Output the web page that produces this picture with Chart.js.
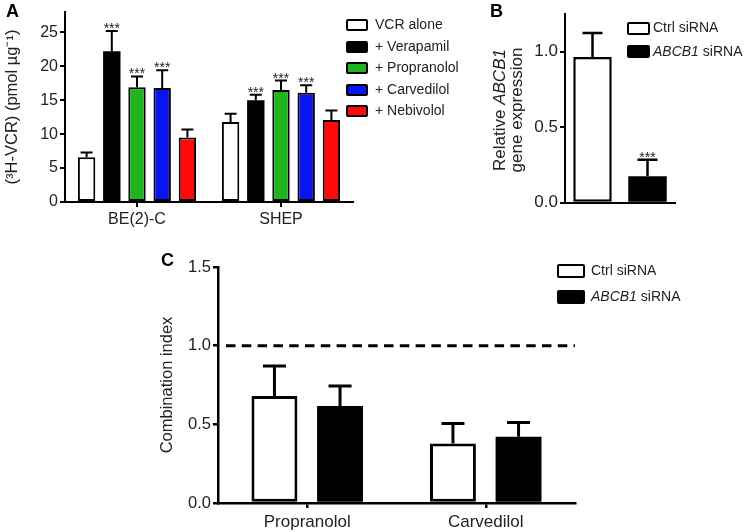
<!DOCTYPE html>
<html>
<head>
<meta charset="utf-8">
<script src="https://cdn.jsdelivr.net/npm/chart.js@4.4.1/dist/chart.umd.min.js"></script>
<style>
  html, body { margin: 0; padding: 0; background: #fff; }
  body { width: 746px; height: 532px; position: relative; overflow: hidden;
         font-family: "Liberation Sans", Arial, Helvetica, sans-serif; color: #111; }
  canvas { position: absolute; }
  .panel { position: absolute; font-weight: bold; font-size: 18px; line-height: 1; color: #000; }
  .leg { position: absolute; font-size: 14px; line-height: 1; white-space: nowrap; color: #222; }
  .leg .box { position: absolute; left: 0; box-sizing: border-box; border: 2px solid #000; border-radius: 2px; }
  .leg span.t { position: absolute; white-space: nowrap; }
  .ytitle { position: absolute; transform: rotate(-90deg); transform-origin: center center;
            text-align: center; font-size: 17px; color: #222; white-space: nowrap; }
</style>
</head>
<body>
<canvas id="chartA" width="360" height="232" style="left:0;top:0"></canvas>
<canvas id="chartB" width="200" height="215" style="left:480px;top:0"></canvas>
<canvas id="chartC" width="440" height="292" style="left:150px;top:240px"></canvas>

<div class="panel" style="left:6px;top:2px">A</div>
<div class="panel" style="left:490px;top:2px">B</div>
<div class="panel" style="left:161px;top:251px">C</div>

<div id="legA"></div>
<div id="legB"></div>
<div id="legC"></div>
<div class="ytitle" style="left:408px;top:93px;width:200px;line-height:17px">Relative <i>ABCB1</i><br>gene expression</div>

<script>
// ---------- Panel A data ----------
const groupsA = ['BE(2)-C', 'SHEP'];
const treatmentsA = ['VCR alone', '+ Verapamil', '+ Propranolol', '+ Carvedilol', '+ Nebivolol'];
const vcrAlone = [6.6, 11.8];
const vcrAloneErr = [0.7, 1.2];
const verapamil = [22.2, 15.0];
const verapamilErr = [3.0, 0.8];
const propranolol = [16.9, 16.5];
const propranololErr = [1.6, 1.4];
const carvedilol = [16.8, 16.1];
const carvedilolErr = [2.6, 1.1];
const nebivolol = [9.5, 12.1];
const nebivololErr = [1.2, 1.4];
const sigA = [['', ''], ['***', '***'], ['***', '***'], ['***', '***'], ['', '']];
const ticksA = [0, 5, 10, 15, 20, 25];
const colorsA = ['#ffffff', '#000000', '#20b420', '#0a14f0', '#ff0a0a'];

// ---------- Panel B data ----------
const seriesB = ['Ctrl siRNA', 'ABCB1 siRNA'];
const valuesB = [0.965, 0.175];
const errorsB = [0.16, 0.11];
const sigB = ['', '***'];
const ticksB = [0, 0.5, 1.0];

// ---------- Panel C data ----------
const categoriesC = ['Propranolol', 'Carvedilol'];
const ctrlC = [0.68, 0.378];
const ctrlErrC = [0.19, 0.128];
const abcbC = [0.617, 0.421];
const abcbErrC = [0.127, 0.09];
const ticksC = [0, 0.5, 1.0, 1.5];
const refLineC = 1.0;
const seriesC = ['Ctrl siRNA', 'ABCB1 siRNA'];

const FONT = '"Liberation Sans", Arial, Helvetica, sans-serif';

// error bars + significance stars
const errorBars = {
  id: 'errorBars',
  afterDatasetsDraw(chart, args, opts) {
    const ctx = chart.ctx, ys = chart.scales.y;
    chart.data.datasets.forEach((ds, i) => {
      const meta = chart.getDatasetMeta(i);
      meta.data.forEach((bar, j) => {
        const v = ds.data[j], e = (ds.errors || [])[j] || 0;
        const top = ys.getPixelForValue(v + e);
        ctx.save();
        ctx.strokeStyle = '#000';
        ctx.lineWidth = opts.lineWidth;
        ctx.beginPath();
        ctx.moveTo(bar.x, bar.y);
        ctx.lineTo(bar.x, top);
        ctx.moveTo(bar.x - opts.cap / 2, top);
        ctx.lineTo(bar.x + opts.cap / 2, top);
        ctx.stroke();
        const s = (ds.sig || [])[j];
        if (s) {
          ctx.fillStyle = '#222';
          ctx.font = opts.starSize + 'px ' + FONT;
          ctx.textAlign = 'center';
          ctx.textBaseline = 'alphabetic';
          ctx.fillText(s, bar.x, top + opts.starOffset);
        }
        ctx.restore();
      });
    });
  }
};

// horizontal dashed reference line
const refLine = {
  id: 'refLine',
  afterDatasetsDraw(chart, args, opts) {
    if (opts.value === undefined) return;
    const ctx = chart.ctx, a = chart.chartArea;
    const y = chart.scales.y.getPixelForValue(opts.value);
    ctx.save();
    ctx.strokeStyle = '#000';
    ctx.lineWidth = 3;
    ctx.setLineDash([9.5, 6.3]);
    ctx.beginPath();
    ctx.moveTo(a.left + 8, y);
    ctx.lineTo(a.right, y);
    ctx.stroke();
    ctx.restore();
  }
};

function yScale(ticks, max, width, titleText, titlePad, axisW, fmt, fs) {
  return {
    min: 0, max: max,
    afterBuildTicks: s => { s.ticks = ticks.map(v => ({ value: v })); },
    afterFit: s => { s.width = width; },
    border: { display: true, color: '#000', width: axisW },
    grid: { display: true, drawOnChartArea: false, drawTicks: true, tickLength: 5, color: '#000', lineWidth: axisW },
    ticks: { color: '#222', font: { family: FONT, size: fs }, padding: 2, autoSkip: false,
             callback: v => fmt ? Number(v).toFixed(1) : String(v) },
    title: titleText ? { display: true, text: titleText, color: '#222',
             font: { family: FONT, size: 16.5 }, padding: { top: titlePad, bottom: 0 } } : { display: false }
  };
}

function xScale(height, showTicks, axisW, fs, pad) {
  return {
    afterFit: s => { s.height = height; },
    border: { display: true, color: '#000', width: axisW },
    grid: { display: showTicks, offset: false, drawOnChartArea: false, drawTicks: true, tickLength: 5, color: '#000', lineWidth: axisW },
    ticks: { display: showTicks, color: '#222', font: { family: FONT, size: fs }, padding: pad, maxRotation: 0 }
  };
}

Chart.defaults.font.family = FONT;

// ---------- Chart A ----------
const valsA = [vcrAlone, verapamil, propranolol, carvedilol, nebivolol];
const errsA = [vcrAloneErr, verapamilErr, propranololErr, carvedilolErr, nebivololErr];
new Chart(document.getElementById('chartA'), {
  type: 'bar',
  data: {
    labels: groupsA,
    datasets: treatmentsA.map((name, i) => ({
      label: name, data: valsA[i], errors: errsA[i], sig: sigA[i],
      backgroundColor: colorsA[i], borderColor: '#000', borderWidth: i === 1 ? 0 : 2, borderSkipped: false,
      categoryPercentage: 0.875, barPercentage: 0.69
    }))
  },
  options: {
    responsive: false, animation: false, devicePixelRatio: 1,
    layout: { padding: { left: 0, top: 12, right: 7, bottom: 0 } },
    plugins: { legend: { display: false }, tooltip: { enabled: false },
               errorBars: { lineWidth: 2, cap: 12, starSize: 14, starOffset: 2 } },
    scales: {
      x: xScale(30, true, 2, 16, 3),
      y: yScale(ticksA, 28, 65, '(³H-VCR) (pmol µg⁻¹)', 3, 2, false, 16)
    }
  },
  plugins: [errorBars]
});

// ---------- Chart B ----------
new Chart(document.getElementById('chartB'), {
  type: 'bar',
  data: {
    labels: [''],
    datasets: seriesB.map((name, i) => ({
      label: name, data: [valuesB[i]], errors: [errorsB[i]], sig: [sigB[i]],
      backgroundColor: i === 0 ? '#ffffff' : '#000000', borderColor: '#000', borderWidth: i === 0 ? 2.5 : 0, borderSkipped: false,
      categoryPercentage: 1.0, barPercentage: 0.7
    }))
  },
  options: {
    responsive: false, animation: false, devicePixelRatio: 1,
    layout: { padding: { left: 0, top: 14, right: 5, bottom: 0 } },
    plugins: { legend: { display: false }, tooltip: { enabled: false },
               errorBars: { lineWidth: 2.5, cap: 20, starSize: 14, starOffset: 2 } },
    scales: {
      x: xScale(10, false, 2, 16, 3),
      y: yScale(ticksB, 1.25, 85, null, 0, 2, true, 17)
    }
  },
  plugins: [errorBars]
});

// ---------- Chart C ----------
new Chart(document.getElementById('chartC'), {
  type: 'bar',
  data: {
    labels: categoriesC,
    datasets: [
      { label: seriesC[0], data: ctrlC, errors: ctrlErrC, backgroundColor: '#ffffff', borderColor: '#000',
        borderWidth: 3, borderSkipped: false, categoryPercentage: 0.735, barPercentage: 0.7 },
      { label: seriesC[1], data: abcbC, errors: abcbErrC, backgroundColor: '#000000', borderColor: '#000',
        borderWidth: 0, borderSkipped: false, categoryPercentage: 0.735, barPercentage: 0.7 }
    ]
  },
  options: {
    responsive: false, animation: false, devicePixelRatio: 1,
    layout: { padding: { left: 0, top: 27, right: 15, bottom: 0 } },
    plugins: { legend: { display: false }, tooltip: { enabled: false },
               errorBars: { lineWidth: 3, cap: 23, starSize: 14, starOffset: 2 },
               refLine: { value: refLineC } },
    scales: {
      x: xScale(29, true, 2.5, 17, 4.5),
      y: yScale(ticksC, 1.5, 68, 'Combination index', 8, 2.5, true, 16.5)
    }
  },
  plugins: [errorBars, refLine]
});

// ---------- HTML legends ----------
function legend(el, left, top, step, boxW, boxH, textX, items) {
  const host = document.getElementById(el);
  items.forEach((it, i) => {
    const d = document.createElement('div');
    d.className = 'leg';
    d.style.left = left + 'px';
    d.style.top = (top + i * step) + 'px';
    d.innerHTML = '<div class="box" style="top:' + (-boxH / 2) + 'px;width:' + boxW + 'px;height:' + boxH +
      'px;background:' + it.color + '"></div><span class="t" style="left:' + textX + 'px;top:-8px">' + it.html + '</span>';
    host.appendChild(d);
  });
}
legend('legA', 346, 25, 21.5, 22, 12, 29, treatmentsA.map((t, i) => ({ html: t, color: colorsA[i] })));
legend('legB', 627, 28.3, 23.4, 23, 13, 26, seriesB.map((t, i) => ({
  html: t.replace('ABCB1', '<i>ABCB1</i>'), color: i === 0 ? '#fff' : '#000' })));
legend('legC', 557, 270.7, 26.6, 28, 14, 34, seriesC.map((t, i) => ({
  html: t.replace('ABCB1', '<i>ABCB1</i>'), color: i === 0 ? '#fff' : '#000' })));
</script>
</body>
</html>
